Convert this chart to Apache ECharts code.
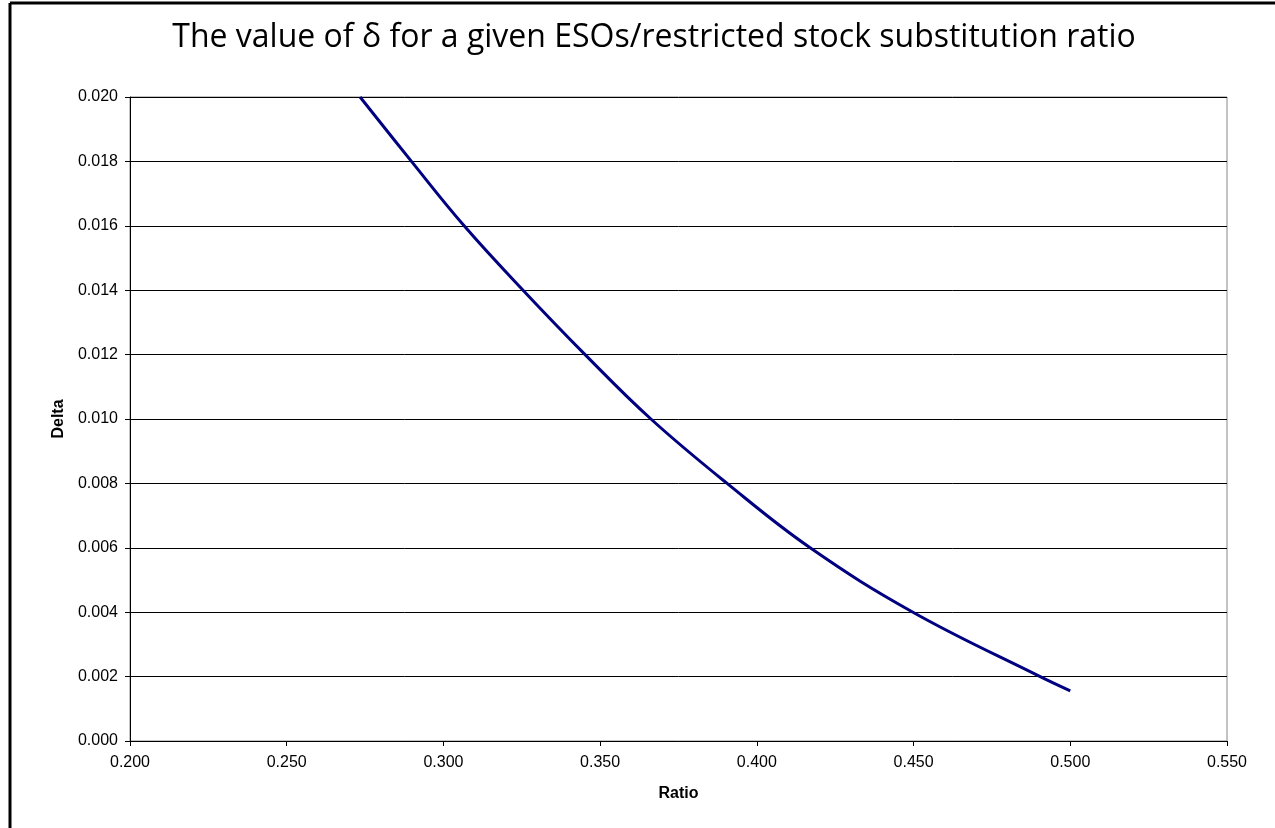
<!DOCTYPE html>
<html>
<head>
<meta charset="utf-8">
<script src="https://cdn.jsdelivr.net/npm/echarts@6/dist/echarts.min.js"></script>
<style>
  html, body { margin: 0; padding: 0; background: #fff; }
  #chart { width: 1275px; height: 828px; }
</style>
</head>
<body>
<div id="chart"></div>
<script>
// ratio -> delta
var ratio = [0.2734, 0.2898, 0.3066, 0.3254, 0.3452, 0.3662, 0.3905, 0.4170, 0.4498, 0.4904, 0.5000];
var delta = [0.020, 0.018, 0.016, 0.014, 0.012, 0.010, 0.008, 0.006, 0.004, 0.002, 0.00156];

var chart = echarts.init(document.getElementById("chart"));

var points = ratio.map(function (r, i) { return [r, delta[i]]; });

var option = {
    backgroundColor: '#fff',
    animation: false,
    title: {
        text: 'The value of δ for a given ESOs/restricted stock substitution ratio',
        left: 649,
        top: 17,
        textAlign: 'center',
        textStyle: {
            color: '#000',
            fontSize: 32,
            fontWeight: 'normal',
            fontFamily: 'Open Sans'
        }
    },
    grid: {
        left: 130,
        top: 97,
        width: 1097,
        height: 644,
        show: true,
        borderColor: '#888',
        borderWidth: 1
    },
    xAxis: {
        type: 'value',
        min: 0.2,
        max: 0.55,
        interval: 0.05,
        name: 'Ratio',
        nameLocation: 'middle',
        nameGap: 45,
        nameTextStyle: { color: '#000', fontSize: 16, fontWeight: 'bold', fontFamily: 'Liberation Sans' },
        axisLine: { lineStyle: { color: '#000', width: 1 } },
        axisTick: { show: true, length: 5, lineStyle: { color: '#000' } },
        axisLabel: {
            color: '#000', fontSize: 16, fontFamily: 'Liberation Sans', margin: 14,
            formatter: function (v) { return v.toFixed(3); }
        },
        splitLine: { show: false }
    },
    yAxis: {
        type: 'value',
        min: 0,
        max: 0.02,
        interval: 0.002,
        name: 'Delta',
        nameLocation: 'middle',
        nameGap: 62,
        nameTextStyle: { color: '#000', fontSize: 16, fontWeight: 'bold', fontFamily: 'Liberation Sans' },
        axisLine: { show: true, lineStyle: { color: '#000', width: 1 } },
        axisTick: { show: true, length: 5, lineStyle: { color: '#000' } },
        axisLabel: {
            color: '#000', fontSize: 16, fontFamily: 'Liberation Sans', margin: 12,
            formatter: function (v) { return v.toFixed(3); }
        },
        splitLine: { show: true, lineStyle: { color: '#000', width: 1 } }
    },
    graphic: [
        // chart area frame (left and top edges visible)
        { type: 'line', shape: { x1: 10, y1: 3, x2: 10, y2: 828 }, style: { stroke: '#000', lineWidth: 3 } },
        { type: 'line', shape: { x1: 10, y1: 3, x2: 1275, y2: 3 }, style: { stroke: '#000', lineWidth: 3 } }
    ],
    series: [
        {
            type: 'line',
            data: points,
            smooth: 0.4,
            showSymbol: false,
            lineStyle: { color: '#000080', width: 3 }
        }
    ]
};

chart.setOption(option);
window.addEventListener("resize", function () {
    chart.resize();
});
</script>
</body>
</html>
